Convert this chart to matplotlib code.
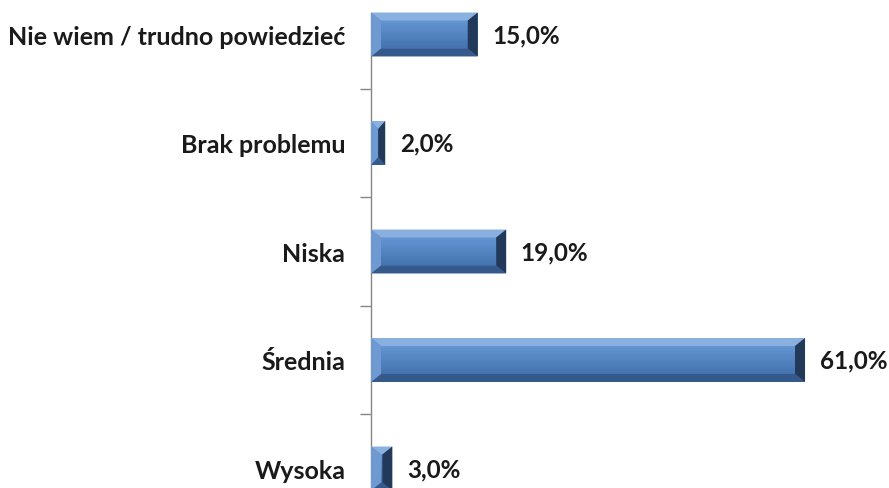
import matplotlib
matplotlib.use("Agg")
import matplotlib.pyplot as plt
from matplotlib.patches import Polygon
import numpy as np
from matplotlib.colors import to_rgb

categories = ["Wysoka", "Średnia", "Niska", "Brak problemu", "Nie wiem / trudno powiedzieć"]
values = [3.0, 61.0, 19.0, 2.0, 15.0]
value_labels = ["3,0%", "61,0%", "19,0%", "2,0%", "15,0%"]

W, H = 889, 489
fig = plt.figure(figsize=(W / 100, H / 100), dpi=100)
# axes runs past the bottom edge, like the cropped original
top_px, bottom_px = 14, 523.75
left_px, right_px = 371, 371 + 70 * 7.115
ax = fig.add_axes([left_px / W, (H - bottom_px) / H,
                   (right_px - left_px) / W, (bottom_px - top_px) / H])

ypos = list(range(len(categories)))
bars = ax.barh(ypos, values, height=0.405, color="#4F81BD", edgecolor="none", zorder=2)
ax.set_xlim(0, 70)
ax.set_ylim(-0.5, 4.198)

for s in ["top", "right", "bottom"]:
    ax.spines[s].set_visible(False)
ax.spines["left"].set_color("#868686")
ax.spines["left"].set_linewidth(1)
ax.set_xticks([])
ax.set_yticks(ypos)
ax.set_yticklabels(categories, fontsize=18, fontweight="bold", family="Lato", color="#1a1a1a")
ax.tick_params(axis="y", which="major", length=0, pad=18.5)
ax.set_yticks([i + 0.5 for i in ypos[:-1]], minor=True)
ax.tick_params(axis="y", which="minor", length=8, color="#868686", width=1)

# bevel decoration computed from each bar's pixel extent
fig.canvas.draw()
bh, bv = 10, 8
c_top = np.array(to_rgb("#6395D2"))
c_bot = np.array(to_rgb("#4473AE"))
for b in bars:
    (x0, y0), (x1, y1) = ax.transData.transform([(b.get_x(), b.get_y()),
                                                 (b.get_x() + b.get_width(), b.get_y() + b.get_height())])
    hx = min(bh, (x1 - x0) / 2)
    hy = min(bv, (y1 - y0) / 2)
    ix0, ix1, iy0, iy1 = x0 + hx, x1 - hx, y0 + hy, y1 - hy
    # face gradient
    n = 12
    edges = np.linspace(iy0, iy1, n + 1)
    for k in range(n):
        t = (k + 0.5) / n
        c = c_bot * (1 - t) + c_top * t
        fig.add_artist(Polygon([(ix0, edges[k]), (ix1, edges[k]), (ix1, edges[k + 1] + 0.5), (ix0, edges[k + 1] + 0.5)],
                               closed=True, facecolor=c, edgecolor="none", transform=None, zorder=3))
    parts = [
        ([(x0, y1), (x1, y1), (ix1, iy1), (ix0, iy1)], "#8AB0E0"),   # top
        ([(x0, y0), (x1, y0), (ix1, iy0), (ix0, iy0)], "#34598A"),   # bottom
        ([(x0, y0), (x0, y1), (ix0, iy1), (ix0, iy0)], "#6E9AD1"),   # left
        ([(x1, y0), (x1, y1), (ix1, iy1), (ix1, iy0)], "#23395A"),   # right
    ]
    for pts, c in parts:
        fig.add_artist(Polygon(pts, closed=True, facecolor=c, edgecolor="none",
                               transform=None, zorder=4))

for y, v, lab in zip(ypos, values, value_labels):
    ax.annotate(lab, (v, y), xytext=(10.5, 0), textcoords="offset points",
                va="center", ha="left", fontsize=17.5, fontweight="bold",
                family="Lato", color="#1a1a1a")

fig.savefig("out.png", dpi=100)
